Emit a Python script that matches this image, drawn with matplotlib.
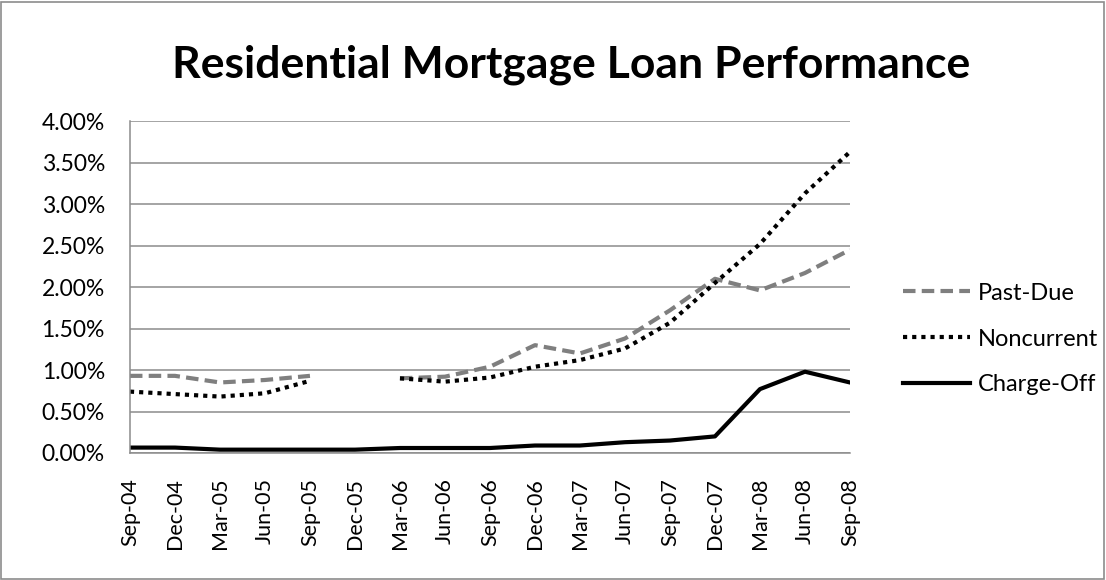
import numpy as np
import matplotlib
matplotlib.use('Agg')
from matplotlib import pyplot as plt
from matplotlib.patches import Rectangle
from matplotlib.ticker import FuncFormatter

plt.rcParams['font.family'] = ['Lato', 'DejaVu Sans']

quarters = ['Sep-04', 'Dec-04', 'Mar-05', 'Jun-05', 'Sep-05', 'Dec-05', 'Mar-06',
            'Jun-06', 'Sep-06', 'Dec-06', 'Mar-07', 'Jun-07', 'Sep-07', 'Dec-07',
            'Mar-08', 'Jun-08', 'Sep-08']
nan = np.nan
past_due = [0.93, 0.93, 0.85, 0.88, 0.93, nan, 0.90, 0.92, 1.04, 1.30, 1.20,
            1.38, 1.72, 2.10, 1.96, 2.17, 2.45]
noncurrent = [0.74, 0.71, 0.68, 0.72, 0.87, nan, 0.90, 0.86, 0.91, 1.04, 1.12,
              1.26, 1.57, 2.05, 2.52, 3.13, 3.63]
charge_off = [0.065, 0.065, 0.04, 0.04, 0.04, 0.04, 0.06, 0.06, 0.06, 0.09, 0.09,
              0.13, 0.15, 0.20, 0.77, 0.98, 0.85]

fig = plt.figure(figsize=(11.06, 5.8), dpi=100)
ax = fig.add_axes([0.1175, 0.219, 0.651, 0.572])

x = np.arange(len(quarters))
ax.plot(x, past_due, color='#7f7f7f', lw=3.0, dashes=(3, 1.5), label='Past-Due')
ax.plot(x, noncurrent, color='black', lw=3.0, dashes=(1, 1.2), label='Noncurrent')
ax.plot(x, charge_off, color='black', lw=3.0, label='Charge-Off')

ax.set_xlim(0, len(quarters) - 1)
ax.set_ylim(0, 4)
ax.set_yticks(np.arange(0, 4.01, 0.5))
ax.yaxis.set_major_formatter(FuncFormatter(lambda v, p: '%.2f%%' % v))
ax.set_xticks(x)
ax.set_xticklabels(quarters, rotation=90)
ax.tick_params(axis='both', length=0, colors='black')
ax.tick_params(axis='x', pad=18, labelsize=15.5)
ax.tick_params(axis='y', pad=18, labelsize=16.5)
ax.grid(axis='y', color='#8c8c8c', lw=1.1)
ax.set_axisbelow(True)
for s in ['top', 'right']:
    ax.spines[s].set_visible(False)
ax.spines['left'].set_color('#8c8c8c')
ax.spines['bottom'].set_color('#8c8c8c')
ax.spines['left'].set_linewidth(1.1)
ax.spines['bottom'].set_linewidth(1.1)

fig.text(0.516, 0.888, 'Residential Mortgage Loan Performance', ha='center', va='center',
         fontsize=32, fontweight='bold')

leg = fig.legend(loc='center left', bbox_to_anchor=(0.797, 0.4155), frameon=False,
                 fontsize=17, handlelength=2.85, labelspacing=1.05, handletextpad=0.33)

fig.patches.append(Rectangle((0.001, 0.002), 0.997, 0.995, transform=fig.transFigure,
                             fill=False, edgecolor='#8c8c8c', lw=1.2))

fig.savefig('out.png', dpi=100)
